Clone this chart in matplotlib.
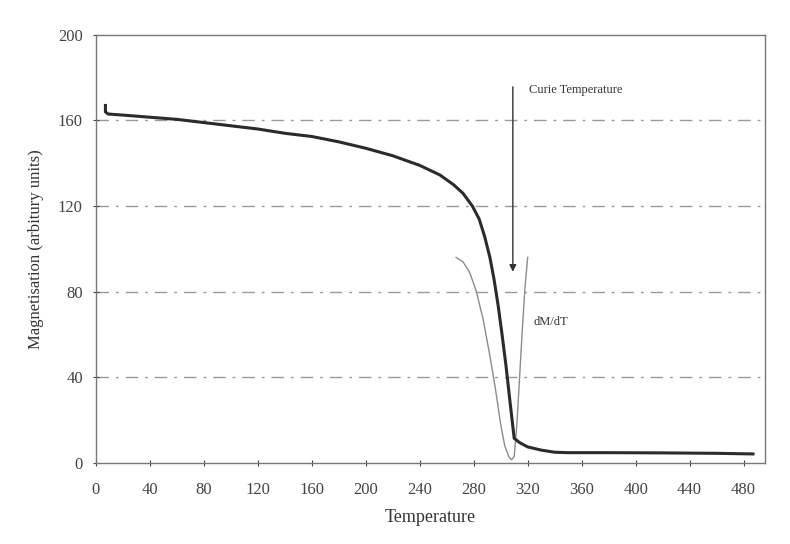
import matplotlib
matplotlib.use("Agg")
import matplotlib.pyplot as plt

# magnetisation curve
temp = [7, 7, 9, 20, 40, 60, 80, 100, 120, 140, 160, 180, 200, 220, 240, 255, 265,
        272, 279, 284, 288, 292, 295, 298, 301, 304, 307, 310, 314, 320, 330, 340,
        350, 380, 420, 460, 487]
magn = [167, 164, 163, 162.5, 161.5, 160.5, 159, 157.5, 156, 154, 152.5, 150, 147,
        143.5, 139, 134.5, 130, 126, 120, 114, 106, 96, 86, 74, 60, 45, 28, 11.5,
        9.5, 7.5, 6, 5, 4.8, 4.8, 4.7, 4.5, 4.2]

# dM/dT curve
dtemp = [267, 272, 277, 282, 287, 292, 296, 300, 303, 306, 308, 310, 312, 314, 316, 318, 320]
dmdt = [96, 94, 89, 80, 67, 50, 35, 18, 8, 3, 1.5, 3, 18, 40, 62, 82, 96]

grid_levels = [40, 80, 120, 160]
xticks = list(range(0, 481, 40))
yticks = list(range(0, 201, 40))

plt.rcParams['font.family'] = ['Liberation Serif', 'DejaVu Serif']

fig = plt.figure(figsize=(7.9, 5.44), dpi=100)
ax = fig.add_axes([0.1215, 0.149, 0.847, 0.787])

for g in grid_levels:
    ax.axhline(g, color="#9a9a9a", lw=1.0, ls=(0, (9, 5, 2, 5)), zorder=1)

ax.plot(dtemp, dmdt, color="#8c8c8c", lw=1.0, zorder=2)
ax.plot(temp, magn, color="#2b2b2b", lw=2.2, zorder=3)

ax.annotate("", xy=(309, 88), xytext=(309, 177),
            arrowprops=dict(arrowstyle="-|>", color="#333333", lw=1.0,
                            mutation_scale=10))
ax.text(321, 174, "Curie Temperature", fontsize=9, color="#333333", va="center")
ax.text(324, 66, "dM/dT", fontsize=9, color="#333333", va="center")

ax.set_xlim(0, 496)
ax.set_ylim(0, 200)
ax.set_xticks(xticks)
ax.set_yticks(yticks)
ax.tick_params(direction="inout", length=5, labelsize=12, colors="#444444")
ax.tick_params(axis="x", pad=11)
ax.tick_params(axis="y", pad=7)
for s in ax.spines.values():
    s.set_color("#777777")
    s.set_linewidth(1.0)

ax.set_xlabel("Temperature", fontsize=13, color="#333333", labelpad=8)
ax.set_ylabel("Magnetisation (arbitury units)", fontsize=12, color="#333333", labelpad=10)

fig.savefig("out.png", dpi=100)
